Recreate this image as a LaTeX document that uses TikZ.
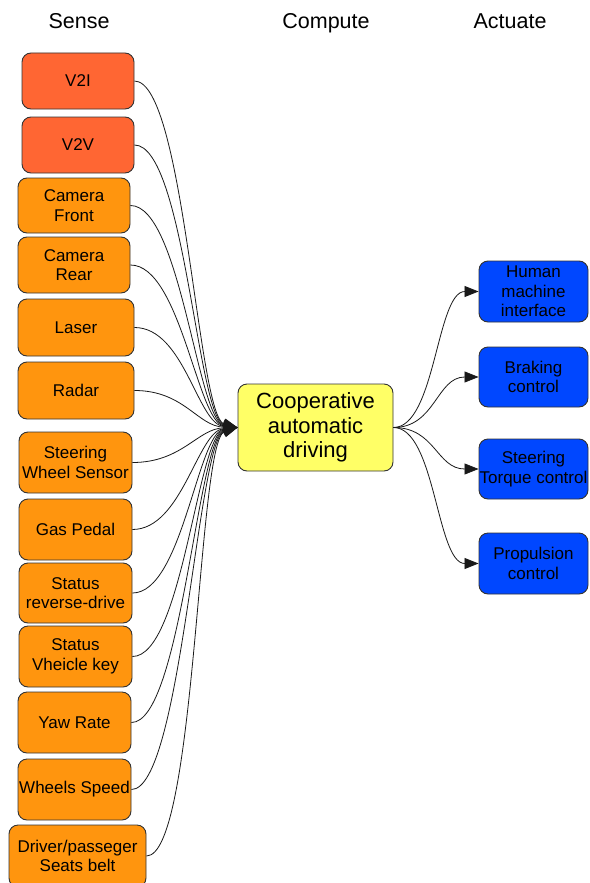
\documentclass[tikz,border=0pt]{standalone}
\usepackage{fontspec}
\setmainfont{Liberation Sans}
\usetikzlibrary{arrows.meta}

\definecolor{commred}{HTML}{FF6633}
\definecolor{sensorange}{HTML}{FF950E}
\definecolor{coreyellow}{HTML}{FFFF66}
\definecolor{actblue}{HTML}{0047FF}
\definecolor{edgegray}{HTML}{333333}

\tikzset{
  box/.style={draw=edgegray, line width=0.9pt, rounded corners=9pt, inner sep=0pt,
    align=center, font=\fontsize{17}{19.5}\selectfont},
  commbox/.style={box, fill=commred},
  sensebox/.style={box, fill=sensorange},
  actbox/.style={box, fill=actblue, minimum width=109pt},
  corebox/.style={box, fill=coreyellow, font=\fontsize{22}{24.5}\selectfont},
  header/.style={anchor=base, font=\fontsize{21.5}{24}\selectfont},
  link/.style={line width=0.8pt, draw=black!90},
  inlink/.style={link, -{Triangle[length=14pt,width=11pt]}},
  outlink/.style={link, -{Triangle[length=14pt,width=11pt]}},
}

\begin{document}
\begin{tikzpicture}[x=1pt, y=-1pt]
\useasboundingbox (0,0) rectangle (589,883);

% column titles
\node[header] (hsense)   at (79,29)  {Sense};
\node[header] (hcompute) at (326,29) {Compute};
\node[header] (hactuate) at (510,29) {Actuate};

% sensing inputs
\node[commbox, minimum width=112pt, minimum height=56pt] (v2i) at (78,81) {V2I};
\node[commbox, minimum width=112pt, minimum height=56pt] (v2v) at (78,145) {V2V};
\node[sensebox, minimum width=112pt, minimum height=55pt] (camf) at (74,205.5) {Camera\\Front};
\node[sensebox, minimum width=112pt, minimum height=56pt] (camr) at (74,265) {Camera\\Rear};
\node[sensebox, minimum width=116pt, minimum height=57pt] (laser) at (76,327.5) {Laser};
\node[sensebox, minimum width=116pt, minimum height=57pt] (radar) at (76,390.5) {Radar};
\node[sensebox, minimum width=113pt, minimum height=61pt] (swheel) at (75.5,462.5) {Steering\\Wheel Sensor};
\node[sensebox, minimum width=113pt, minimum height=61pt] (gas) at (75.5,529.5) {Gas Pedal};
\node[sensebox, minimum width=113pt, minimum height=60pt] (revd) at (75.5,593) {Status\\reverse-drive};
\node[sensebox, minimum width=113pt, minimum height=61pt] (vkey) at (75.5,656.5) {Status\\Vheicle key};
\node[sensebox, minimum width=113pt, minimum height=61pt] (yaw) at (74.5,722.5) {Yaw Rate};
\node[sensebox, minimum width=113pt, minimum height=61pt] (wspeed) at (74.5,789.5) {Wheels Speed};
\node[sensebox, minimum width=137pt, minimum height=62pt] (belt) at (77.5,856) {Driver/passeger\\Seats belt};

% computing core
\node[corebox, minimum width=155pt, minimum height=87pt] (core) at (315.5,427.5)
  {Cooperative\\automatic\\driving};

% actuators
\node[actbox, minimum height=61pt] (hmi) at (533.5,291.5) {Human\\machine\\interface};
\node[actbox, minimum height=60pt] (brake) at (533.5,377) {Braking\\control};
\node[actbox, minimum height=60pt] (storque) at (533.5,469) {Steering\\Torque control};
\node[actbox, minimum height=61pt] (prop) at (533.5,563.5) {Propulsion\\control};

% inputs into the core; each curve enters at a slight slant towards its source
\foreach \src/\k in {v2i/-10.4, v2v/-8.5, camf/-6.7, camr/-4.9, laser/-3.0, radar/-1.1,
                     swheel/1.0, gas/3.0, revd/5.0, vkey/6.9, yaw/8.8, wspeed/10.9, belt/12.8}
  \draw[inlink] (\src.east) .. controls +(50,0) and +(-40,\k) .. (core.west);

% core out to actuators
\foreach \dst in {hmi,brake,storque,prop}
  \draw[outlink] (core.east) .. controls +(42,0) and +(-42,0) .. (\dst.west);
\end{tikzpicture}
\end{document}
